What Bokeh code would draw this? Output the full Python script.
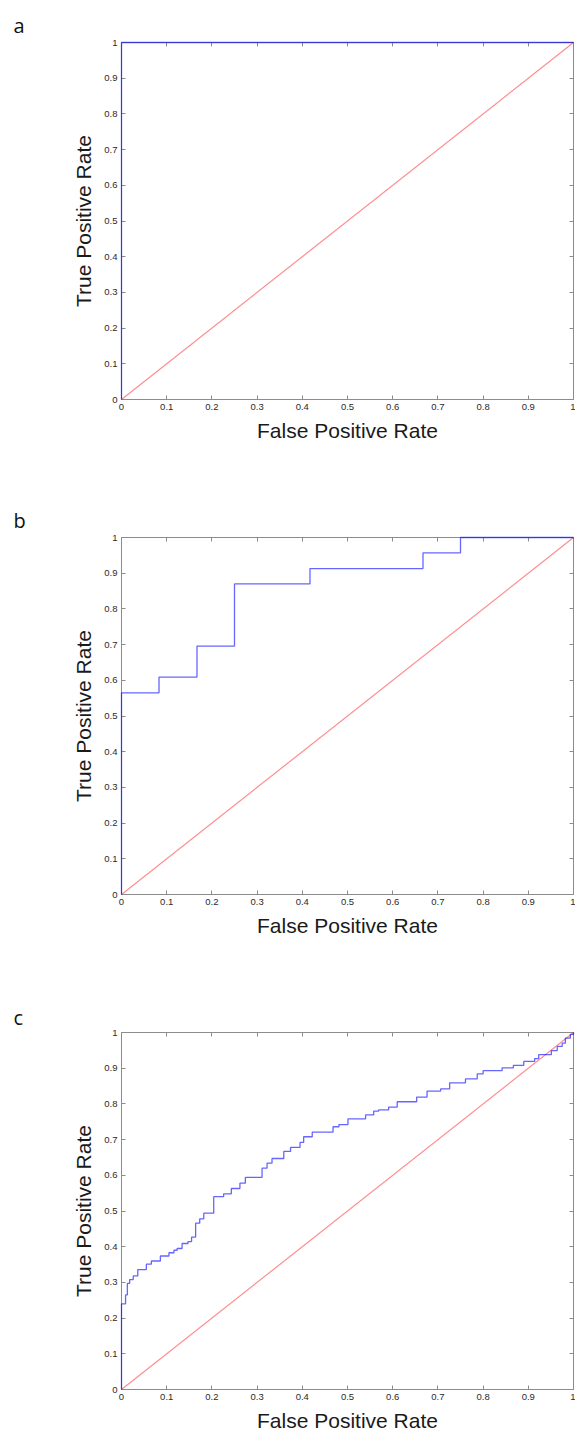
from bokeh.plotting import figure
from bokeh.layouts import column
from bokeh.models import LinearAxis, FixedTicker, Range1d
from bokeh.embed import file_html
from bokeh.resources import INLINE

# ---------------- data ----------------
tick_values = [0, 0.1, 0.2, 0.3, 0.4, 0.5, 0.6, 0.7, 0.8, 0.9, 1]
tick_labels = ["0", "0.1", "0.2", "0.3", "0.4", "0.5", "0.6", "0.7", "0.8", "0.9", "1"]

chance_x = [0.0, 1.0]
chance_y = [0.0, 1.0]

# panel a: perfect classifier
fpr_a = [0.0, 0.0, 1.0]
tpr_a = [0.0, 1.0, 1.0]

# panel b
fpr_b = [0.0, 0.0, 0.083, 0.167, 0.25, 0.417, 0.667, 0.75, 1.0]
tpr_b = [0.0, 0.565, 0.609, 0.696, 0.870, 0.913, 0.957, 1.0, 1.0]

# panel c
fpr_c = [0.0, 0.0, 0.009, 0.013, 0.018, 0.026, 0.036, 0.055, 0.066, 0.086,
         0.105, 0.116, 0.123, 0.134, 0.147, 0.155, 0.164, 0.173, 0.182, 0.204,
         0.226, 0.243, 0.262, 0.274, 0.311, 0.322, 0.333, 0.359, 0.374, 0.395,
         0.403, 0.422, 0.468, 0.481, 0.501, 0.540, 0.558, 0.569, 0.591, 0.610,
         0.653, 0.676, 0.706, 0.726, 0.761, 0.787, 0.800, 0.842, 0.867, 0.890,
         0.914, 0.923, 0.951, 0.964, 0.975, 0.982, 0.993, 1.0]
tpr_c = [0.0, 0.240, 0.265, 0.297, 0.308, 0.318, 0.336, 0.351, 0.360, 0.374,
         0.383, 0.390, 0.395, 0.409, 0.414, 0.427, 0.466, 0.478, 0.494, 0.540,
         0.548, 0.563, 0.578, 0.594, 0.620, 0.634, 0.647, 0.667, 0.678, 0.692,
         0.708, 0.721, 0.736, 0.742, 0.758, 0.769, 0.780, 0.783, 0.791, 0.806,
         0.819, 0.836, 0.842, 0.859, 0.870, 0.884, 0.893, 0.901, 0.908, 0.919,
         0.927, 0.938, 0.949, 0.961, 0.970, 0.984, 0.995, 1.0]

panel_letters = ["a", "b", "c"]
x_title = "False Positive Rate"
y_title = "True Positive Rate"

# ---------------- styling ----------------
AXIS_COLOR = "#8c8c8c"
FONT = "Liberation Sans"


def style_axis(ax, show_labels):
    ax.ticker = FixedTicker(ticks=tick_values)
    ax.major_tick_in = 4
    ax.major_tick_out = 0
    ax.minor_tick_line_color = None
    ax.axis_line_color = AXIS_COLOR
    ax.major_tick_line_color = AXIS_COLOR
    ax.major_label_text_font = FONT
    ax.major_label_text_color = "#2a2a2a"
    ax.major_label_text_font_size = "9.5px"
    if show_labels:
        ax.major_label_overrides = dict(zip(tick_values, tick_labels))
        ax.major_label_standoff = 4
    else:
        ax.major_label_overrides = dict(zip(tick_values, [""] * len(tick_values)))
        ax.major_label_standoff = 0
    ax.axis_label_text_font = FONT
    ax.axis_label_text_font_size = "21px"
    ax.axis_label_text_font_style = "normal"
    ax.axis_label_text_color = "#1a1a1a"


def make_panel(letter, fx, ty, letter_standoff, height, border_bottom):
    p = figure(width=575, height=height,
               x_range=Range1d(0, 1), y_range=Range1d(0, 1),
               output_backend="svg", toolbar_location=None,
               min_border_left=121, min_border_right=2,
               min_border_top=42, min_border_bottom=border_bottom)
    p.grid.visible = False
    p.outline_line_color = None
    p.background_fill_color = "white"
    p.border_fill_color = "white"

    # panel letter as a left-shifted title
    p.title.text = letter
    p.title.align = "left"
    p.title.offset = -108
    p.title.standoff = letter_standoff
    p.title.text_font = "Open Sans"
    p.title.text_font_size = "20px"
    p.title.text_font_style = "normal"
    p.title.text_color = "#111111"

    style_axis(p.xaxis[0], True)
    style_axis(p.yaxis[0], True)
    p.xaxis[0].axis_label = x_title
    p.yaxis[0].axis_label = y_title
    p.xaxis[0].axis_label_standoff = 6
    p.yaxis[0].axis_label_standoff = 6

    top = LinearAxis()
    style_axis(top, False)
    p.add_layout(top, "above")
    right = LinearAxis()
    style_axis(right, False)
    p.add_layout(right, "right")

    diag = p.line(chance_x, chance_y, line_color="red", line_alpha=0.45, line_width=1.2)
    diag.level = "overlay"
    roc = p.step(fx, ty, mode="after", line_color="blue", line_alpha=0.6, line_width=1.3)
    roc.level = "overlay"
    return p


p1 = make_panel(panel_letters[0], fpr_a, tpr_a, 8, 495, 96)
p2 = make_panel(panel_letters[1], fpr_b, tpr_b, 8, 495, 96)
p3 = make_panel(panel_letters[2], fpr_c, tpr_c, 3, 444, 45)

layout = column(p1, p2, p3, spacing=0)
open("out.html", "w").write(file_html(layout, INLINE))
